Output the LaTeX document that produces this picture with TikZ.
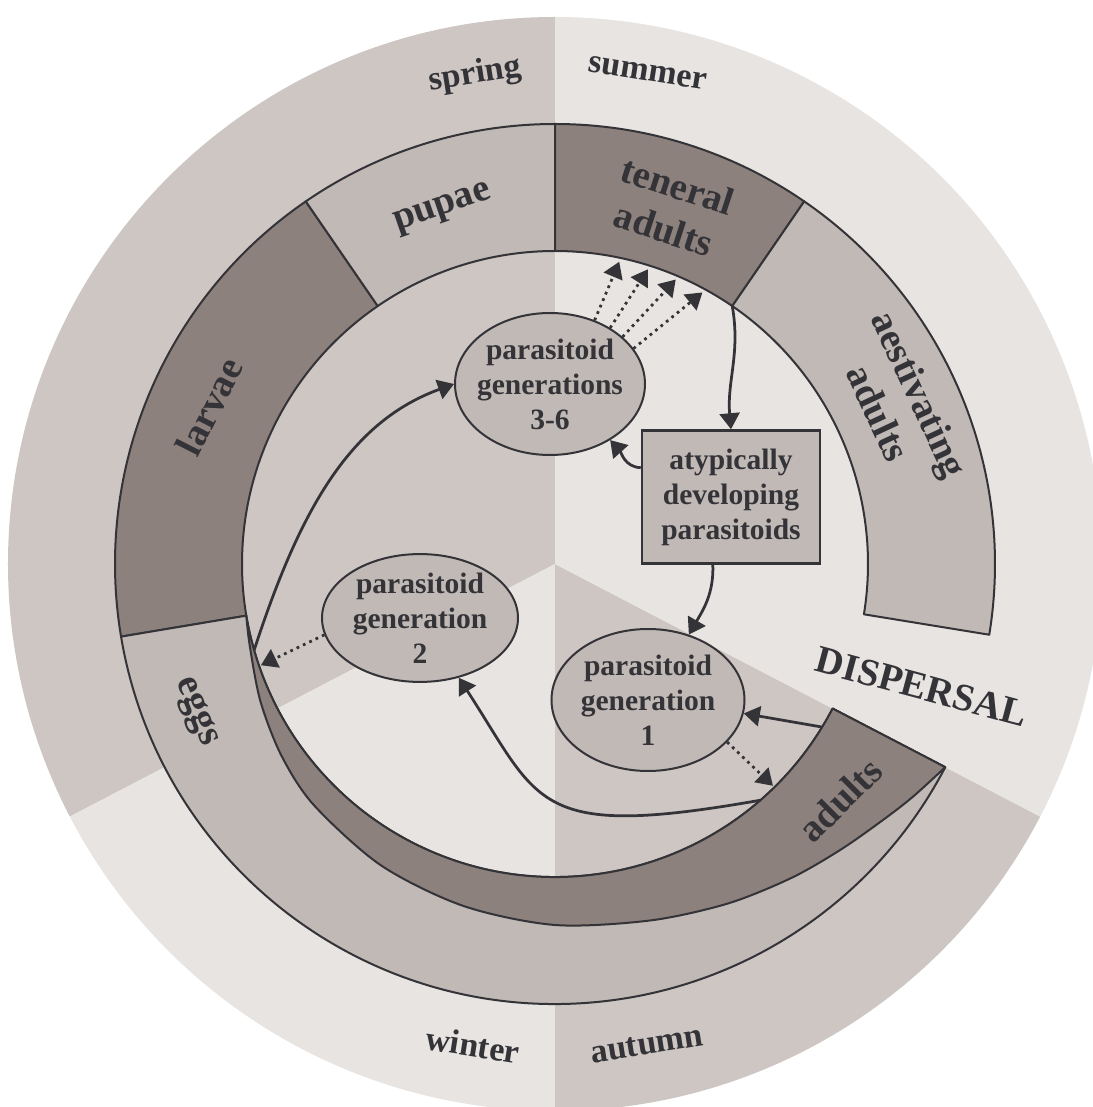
\documentclass[tikz,border=0pt]{standalone}
\usepackage{fontspec}
\setmainfont{Liberation Serif}
\usepackage{xcolor}
\usepackage{tikz}
\usetikzlibrary{
  arrows.meta,
  shapes.geometric
}

\definecolor{ink}{HTML}{333338}
\definecolor{springfill}{HTML}{CDC6C3}
\definecolor{summerfill}{HTML}{E7E4E1}
\definecolor{stagefill}{HTML}{C0B9B6}
\definecolor{stagedark}{HTML}{8D817D}

\begin{document}
\begin{tikzpicture}[
  x=0.2mm, y=0.2mm,
  stage/.style={draw=ink, line width=0.4mm, line join=round},
  stagelabel/.style={
    font=\fontsize{22}{26}\selectfont\bfseries, text=ink,
    align=center, inner sep=0pt
  },
  seasonlabel/.style={
    font=\fontsize{19.4}{23}\selectfont\bfseries, text=ink, inner sep=0pt
  },
  gen/.style={
    ellipse, draw=ink, line width=0.4mm, fill=stagefill,
    font=\fontsize{16.8}{19.9}\selectfont\bfseries, text=ink,
    align=center, inner xsep=-1.5mm, inner ysep=0mm
  },
  atypbox/.style={
    draw=ink, line width=0.5mm, fill=stagefill,
    minimum width=35.6mm, minimum height=26.6mm,
    font=\fontsize{16.8}{19.9}\selectfont\bfseries, text=ink, align=center
  },
  flow/.style={draw=ink, line width=0.55mm, -{Triangle[length=3.2mm, width=4mm]}},
  dotflow/.style={flow, dash pattern=on 0.55mm off 0.85mm}
]
  \useasboundingbox (-555,-543) rectangle (538,564);
  \clip (-555,-543) rectangle (538,564);

  % seasons
  \foreach \a/\b/\c in {90/207.5/springfill, 207.5/270/summerfill,
                        270/332.5/springfill, 332.5/450/summerfill}
    \fill[\c] (0,0) -- (\a:547) arc[start angle=\a, end angle=\b, radius=547] -- cycle;

  % life stages
  \foreach \a/\b/\c in {124.5/189.5/stagedark, 90/124.5/stagefill, 55.5/90/stagedark,
                        -9.25/55.5/stagefill, 189.5/332.5/stagefill}
    \filldraw[stage, fill=\c] (\a:313) -- (\a:440) arc[start angle=\a, end angle=\b, radius=440]
      -- (\b:313) arc[start angle=\b, end angle=\a, radius=313] -- cycle;
  \filldraw[stage, fill=stagedark]
    plot[smooth] coordinates {(189.5:313) (195:316) (205:325) (215:334) (225:341)
      (240:348) (255:354) (270:361) (285:369) (297:381) (307:393) (315:404)
      (322:416) (327:427) (332.5:440)}
    -- (332.5:313) arc[start angle=332.5, end angle=189.5, radius=313] -- cycle;

  \node[stagelabel, rotate=19] (pupae) at (107.5:372) {pupae};
  \node[stagelabel, rotate=-18] (teneral) at (72:375) {teneral\\adults};
  \node[stagelabel, rotate=-65] (aestiv) at (25:380) {aestivating\\adults};
  \node[stagelabel, rotate=63] (larvae) at (155.5:380) {larvae};
  \node[stagelabel, rotate=-67.5] (eggs) at (202.4:389) {eggs};
  \node[stagelabel, rotate=45] (adults) at (-39.6:370) {adults};
  \node[stagelabel, rotate=-15] (dispersal) at (-18.5:387) {DISPERSAL};

  \node[seasonlabel, rotate=9] (spring) at (-80,489) {spring};
  \node[seasonlabel, rotate=-9] (summer) at (93,491) {summer};
  \node[seasonlabel, rotate=-9] (winter) at (-82,-481) {winter};
  \node[seasonlabel, rotate=9] (autumn) at (92,-481) {autumn};

  % parasitoids
  \node[gen, minimum width=38mm, minimum height=28.4mm] (g36) at (-5,180)
    {parasitoid\\generations\\3-6};
  \node[atypbox] (atyp) at (176,67) {atypically\\developing\\parasitoids};
  \node[gen, minimum width=39.2mm, minimum height=24.8mm] (g2) at (-135,-54)
    {parasitoid\\generation\\2};
  \node[gen, minimum width=38.6mm, minimum height=28.4mm] (g1) at (93,-136)
    {parasitoid\\generation\\1};

  \coordinate (tenin) at (55.5:313);
  \coordinate (adin1) at (-31.4:313);
  \coordinate (adin2) at (-45.5:311);
  \coordinate (adin3) at (-49:313);
  \coordinate (eggin1) at (196:313);
  \coordinate (eggin2) at (199:311);

  \draw[flow] (tenin) to[out=-80, in=95] (atyp.north);
  \draw[flow] (atyp.162) to[out=178, in=-48] (g36.-43);
  \draw[flow] (atyp.-105) to[out=-88, in=60] (g1.58);
  \draw[flow] (adin1) -- (g1.-8);
  \draw[flow] (adin3) .. controls +(190:230) and +(-57:150) .. (g2.-57);
  \draw[flow] (eggin1) .. controls +(72:150) and +(200:110) .. (g36.west);
  \draw[dotflow] (g1.-28) -- (adin2);
  \draw[dotflow] (g2.190) -- (eggin2);
  \foreach \s/\e [count=\i] in {55/78, 43/72.5, 33/67, 23/61.5} {
    \coordinate (tenin\i) at (\e:309);
    \draw[dotflow] (g36.\s) -- (tenin\i);
  }
\end{tikzpicture}
\end{document}
